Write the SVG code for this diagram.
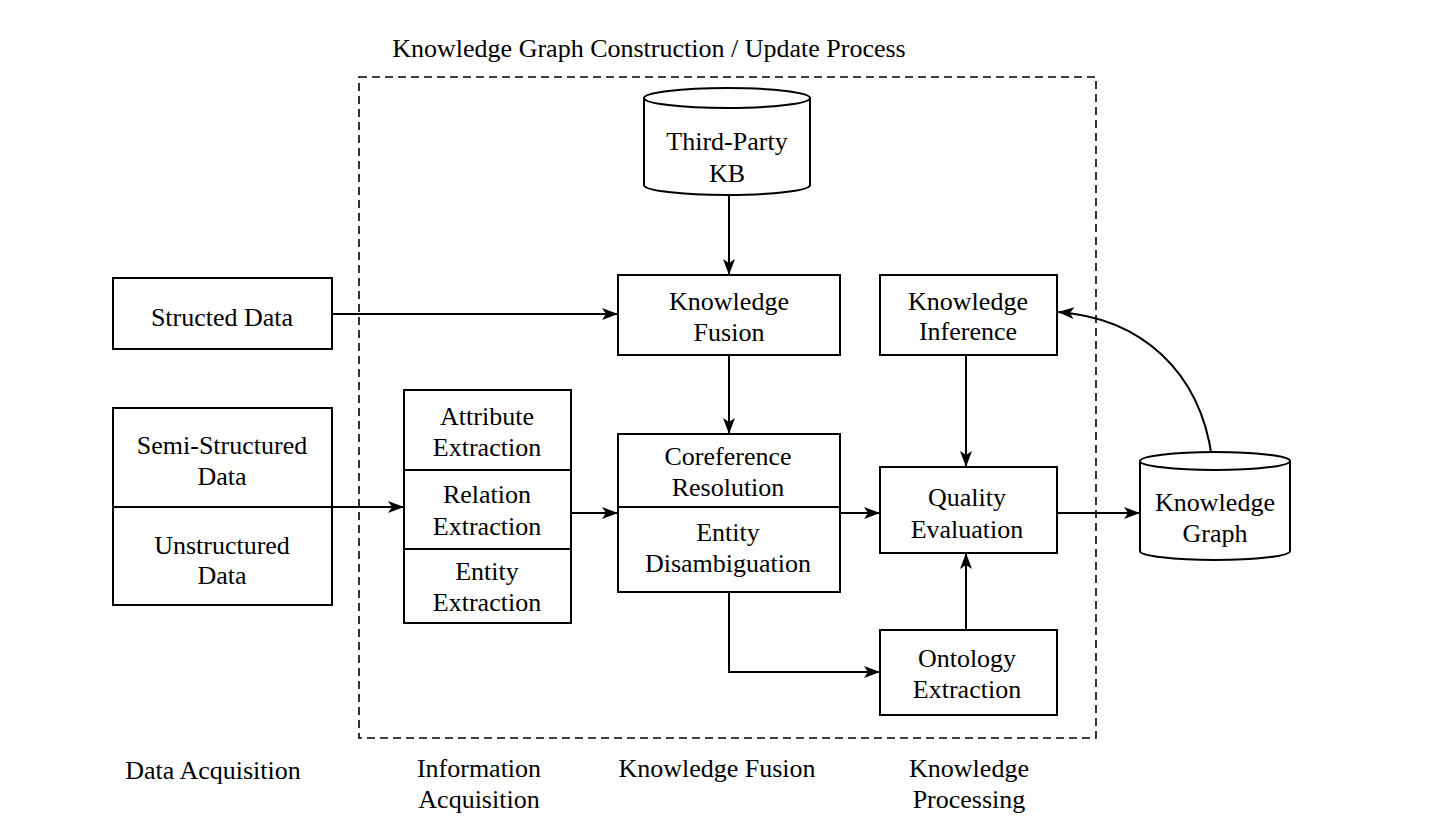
<svg xmlns="http://www.w3.org/2000/svg" width="1443" height="834" viewBox="0 0 1443 834">
<style>
text{font-family:"Liberation Serif","Times New Roman",serif;font-size:26px;fill:#000;text-anchor:middle}
.box{fill:#fff;stroke:#000;stroke-width:2}
.ln{fill:none;stroke:#000;stroke-width:2}
.dash{fill:none;stroke:#000;stroke-width:1.6;stroke-dasharray:8 5}
</style>
<defs>
<marker id="arr" markerUnits="userSpaceOnUse" markerWidth="18" markerHeight="14" refX="16" refY="6" orient="auto">
<path d="M0,0 L16,6 L0,12 L4,6 Z" fill="#000"/>
</marker>
</defs>
<rect width="1443" height="834" fill="#fff"/>
<text x="649" y="57">Knowledge Graph Construction / Update Process</text>
<rect id="process" class="dash" x="359" y="77" width="737" height="661"/>

<g id="connectors">
<path class="ln" d="M729,196 L729,275" marker-end="url(#arr)"/>
<path class="ln" d="M332,314 L618,314" marker-end="url(#arr)"/>
<path class="ln" d="M332,507 L404,507" marker-end="url(#arr)"/>
<path class="ln" d="M571,513 L618,513" marker-end="url(#arr)"/>
<path class="ln" d="M729,355 L729,434" marker-end="url(#arr)"/>
<path class="ln" d="M840,513 L880,513" marker-end="url(#arr)"/>
<path class="ln" d="M966,355 L966,467" marker-end="url(#arr)"/>
<path class="ln" d="M966,630 L966,553" marker-end="url(#arr)"/>
<path class="ln" d="M729,592 L729,672 L880,672" marker-end="url(#arr)"/>
<path class="ln" d="M1057,513 L1140,513" marker-end="url(#arr)"/>
<path class="ln" d="M1212,458 C1200,370 1140,318 1058,312" marker-end="url(#arr)"/>
</g>

<g id="thirdparty">
<path class="box" d="M644,98 L644,185 A83,10 0 0 0 810,185 L810,98"/>
<ellipse class="box" cx="727" cy="98" rx="83" ry="10"/>
<text x="727" y="150">Third-Party</text>
<text x="727" y="182">KB</text>
</g>

<g id="structed">
<rect class="box" x="113" y="278" width="219" height="71"/>
<text x="222" y="326">Structed Data</text>
</g>

<g id="semiunstructured">
<rect class="box" x="113" y="408" width="219" height="197"/>
<line class="ln" x1="113" y1="507" x2="332" y2="507"/>
<text x="222" y="454">Semi-Structured</text>
<text x="222" y="485">Data</text>
<text x="222" y="554">Unstructured</text>
<text x="222" y="584">Data</text>
</g>

<g id="extraction">
<rect class="box" x="404" y="390" width="167" height="233"/>
<line class="ln" x1="404" y1="470" x2="571" y2="470"/>
<line class="ln" x1="404" y1="549" x2="571" y2="549"/>
<text x="487" y="425">Attribute</text>
<text x="487" y="456">Extraction</text>
<text x="487" y="503">Relation</text>
<text x="487" y="535">Extraction</text>
<text x="487" y="580">Entity</text>
<text x="487" y="611">Extraction</text>
</g>

<g id="fusion">
<rect class="box" x="618" y="275" width="222" height="80"/>
<text x="729" y="310">Knowledge</text>
<text x="729" y="341">Fusion</text>
</g>

<g id="coref">
<rect class="box" x="618" y="434" width="222" height="158"/>
<line class="ln" x1="618" y1="507" x2="840" y2="507"/>
<text x="728" y="465">Coreference</text>
<text x="728" y="496">Resolution</text>
<text x="728" y="541">Entity</text>
<text x="728" y="572">Disambiguation</text>
</g>

<g id="inference">
<rect class="box" x="880" y="275" width="177" height="80"/>
<text x="968" y="310">Knowledge</text>
<text x="968" y="340">Inference</text>
</g>

<g id="quality">
<rect class="box" x="880" y="467" width="177" height="86"/>
<text x="967" y="506">Quality</text>
<text x="967" y="538">Evaluation</text>
</g>

<g id="ontology">
<rect class="box" x="880" y="630" width="177" height="85"/>
<text x="967" y="667">Ontology</text>
<text x="967" y="698">Extraction</text>
</g>

<g id="kg">
<path class="box" d="M1140,461 L1140,551 A75,9 0 0 0 1290,551 L1290,461"/>
<ellipse class="box" cx="1215" cy="461" rx="75" ry="9"/>
<text x="1215" y="511">Knowledge</text>
<text x="1215" y="542">Graph</text>
</g>

<g id="labels">
<text x="213" y="779">Data Acquisition</text>
<text x="479" y="777">Information</text>
<text x="479" y="808">Acquisition</text>
<text x="717" y="777">Knowledge Fusion</text>
<text x="969" y="777">Knowledge</text>
<text x="969" y="808">Processing</text>
</g>
</svg>
